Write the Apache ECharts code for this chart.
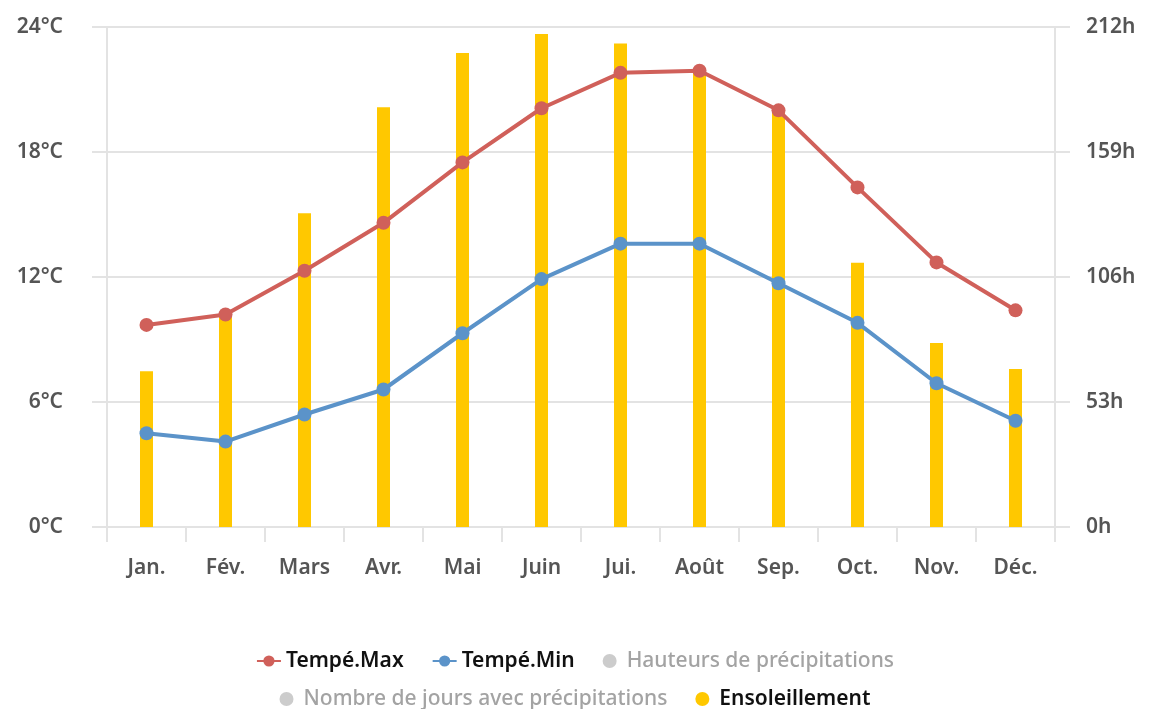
<!DOCTYPE html>
<html>
<head>
<meta charset="utf-8">
<script src="https://cdn.jsdelivr.net/npm/echarts@6/dist/echarts.min.js"></script>
<style>
  html, body { margin: 0; padding: 0; background: #fff; }
  #chart { width: 1150px; height: 709px; }
</style>
</head>
<body>
<div id="chart"></div>
<script>
// mois
const months = ["Jan.", "Fév.", "Mars", "Avr.", "Mai", "Juin", "Jui.", "Août", "Sep.", "Oct.", "Nov.", "Déc."];
// températures (°C)
const tempMax = [9.7, 10.2, 12.3, 14.6, 17.5, 20.1, 21.8, 21.9, 20.0, 16.3, 12.7, 10.4];
const tempMin = [4.5, 4.1, 5.4, 6.6, 9.3, 11.9, 13.6, 13.6, 11.7, 9.8, 6.9, 5.1];
// ensoleillement (heures)
const sunshine = [66, 90, 133, 178, 201, 209, 205, 193, 177, 112, 78, 67];
// séries masquées
const rainHeight = [];
const rainDays = [];

const font = "Noto Sans";
const gridColor = "#e3e3e3";
const hiddenNames = ["Hauteurs de précipitations", "Nombre de jours avec précipitations"];

const legendText = {
  fontSize: 21,
  lineHeight: 24,
  color: "#111",
  fontWeight: 600,
  fontFamily: font,
  rich: {
    off: { fontSize: 21, lineHeight: 24, color: "#a3a3a3", fontWeight: 500, fontFamily: font }
  }
};

function legendRow(top, data) {
  return {
    left: "center",
    top,
    itemGap: 28,
    itemWidth: 24,
    itemHeight: 14,
    textStyle: legendText,
    formatter: name => (hiddenNames.includes(name) ? "{off|" + name + "}" : name),
    inactiveColor: "#cccccc",
    data,
    selected: {
      "Hauteurs de précipitations": false,
      "Nombre de jours avec précipitations": false
    }
  };
}

const chart = echarts.init(document.getElementById("chart"));

chart.setOption({
  textStyle: { fontFamily: font },
  grid: {
    left: 107,
    right: 95,
    top: 27,
    bottom: 182
  },
  legend: [
    legendRow(644, [
      { name: "Tempé.Max" },
      { name: "Tempé.Min" },
      { name: hiddenNames[0], icon: "circle", itemStyle: { color: "#ccc" } }
    ]),
    legendRow(682, [
      { name: hiddenNames[1], icon: "circle", itemStyle: { color: "#ccc" } },
      { name: "Ensoleillement", icon: "circle" }
    ])
  ],
  xAxis: [
    {
      type: "category",
      data: months,
      axisLine: { lineStyle: { color: gridColor, width: 2 } },
      axisTick: { show: true, length: 15, lineStyle: { color: gridColor, width: 2 } },
      axisLabel: { margin: 31, fontSize: 21, fontWeight: 600, color: "#555", fontFamily: font }
    }
  ],
  yAxis: [
    {
      type: "value",
      min: 0,
      max: 24,
      interval: 6,
      axisLine: { show: true, lineStyle: { color: gridColor, width: 2 } },
      axisTick: { show: true, length: 15, lineStyle: { color: gridColor, width: 2 } },
      splitLine: { lineStyle: { color: gridColor, width: 2 } },
      axisLabel: { formatter: "{value}°C", margin: 44, fontSize: 21, fontWeight: 600, color: "#555", fontFamily: font }
    },
    {
      type: "value",
      min: 0,
      max: 212,
      interval: 53,
      axisLine: { show: true, lineStyle: { color: gridColor, width: 2 } },
      axisTick: { show: true, length: 15, lineStyle: { color: gridColor, width: 2 } },
      splitLine: { show: false },
      axisLabel: { formatter: "{value}h", margin: 31, fontSize: 21, fontWeight: 600, color: "#555", fontFamily: font }
    }
  ],
  series: [
    {
      name: "Ensoleillement",
      type: "bar",
      yAxisIndex: 1,
      barWidth: 13,
      itemStyle: { color: "#ffc800" },
      data: sunshine,
      z: 1
    },
    {
      name: hiddenNames[0],
      type: "bar",
      yAxisIndex: 1,
      itemStyle: { color: "#ccc" },
      data: rainHeight
    },
    {
      name: hiddenNames[1],
      type: "line",
      yAxisIndex: 1,
      itemStyle: { color: "#ccc" },
      data: rainDays
    },
    {
      name: "Tempé.Max",
      type: "line",
      yAxisIndex: 0,
      symbol: "circle",
      symbolSize: 14,
      color: "#d0605a",
      lineStyle: { width: 4 },
      data: tempMax,
      z: 3
    },
    {
      name: "Tempé.Min",
      type: "line",
      yAxisIndex: 0,
      symbol: "circle",
      symbolSize: 14,
      color: "#5b93c9",
      lineStyle: { width: 4 },
      data: tempMin,
      z: 3
    }
  ]
});
</script>
</body>
</html>
